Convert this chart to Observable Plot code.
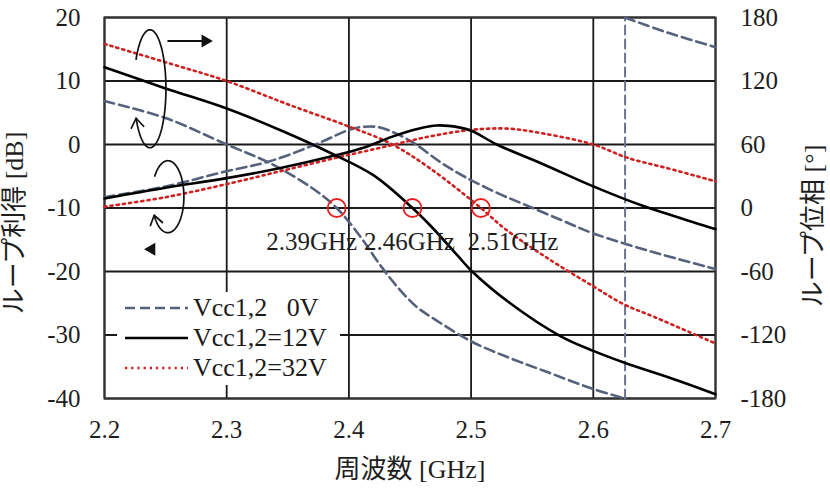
<!DOCTYPE html>
<html>
<head>
<meta charset="utf-8">
<script src="https://cdn.jsdelivr.net/npm/d3@7"></script>
<script src="https://cdn.jsdelivr.net/npm/@observablehq/plot@0.6"></script>
<style>
  body { margin: 0; background: #fff; }
  #wrap { position: relative; width: 830px; height: 493px; overflow: hidden; }
  #wrap svg, #wrap svg text { font-family: "Liberation Serif", "Times New Roman", "Noto Sans CJK JP", serif !important;
    font-variant: normal !important; font-variant-numeric: normal !important; }
  #legend { position: absolute; left: 117px; top: 292px; width: 223px; height: 93px; background: #fff;
            font-family: "Liberation Serif", "Times New Roman", serif; font-size: 26px; color: #1a1a1a; }
  #legend .row { position: absolute; left: 8px; height: 30px; display: flex; align-items: center; white-space: pre; }
  #legend .row svg { margin-right: 5px; }
</style>
</head>
<body>
<div id="wrap"></div>
<script>
// ---------- data ----------
const xTicks = [2.2, 2.3, 2.4, 2.5, 2.6, 2.7];
const gainTicks = [-40, -30, -20, -10, 0, 10, 20];
const phaseTicks = [-180, -120, -60, 0, 60, 120, 180];

const xLabel = "周波数 [GHz]";
const yLabelLeft = "ループ利得 [dB]";
const yLabelRight = "ループ位相 [°]";

const seriesNames = ["Vcc1,2\u00a0\u00a0\u00a00V", "Vcc1,2=12V", "Vcc1,2=32V"];

// loop gain [dB]  (left axis)
const gain0V = [[2.2,-8.3],[2.25,-6.6],[2.3,-4.2],[2.336,-2.6],[2.375,0.2],[2.4,2.3],[2.412,2.8],[2.425,2.7],
  [2.44,1.6],[2.455,0],[2.475,-2.8],[2.494,-5.0],[2.52,-7.5],[2.543,-9.4],[2.575,-12],[2.6,-14],[2.65,-17],[2.7,-19.6]];
const gain12V = [[2.2,-8.5],[2.25,-6.8],[2.3,-5.3],[2.344,-3.7],[2.385,-1.9],[2.412,-0.5],[2.435,1.2],[2.455,2.4],
  [2.472,3.0],[2.49,2.7],[2.5,2.2],[2.521,0],[2.559,-3.1],[2.6,-6.6],[2.641,-9.7],[2.7,-13.3]];
const gain32V = [[2.2,-9.8],[2.25,-8.3],[2.303,-6.1],[2.344,-4.2],[2.385,-2.3],[2.426,-0.5],[2.467,1.3],[2.5,2.3],
  [2.53,2.5],[2.56,1.7],[2.6,0],[2.628,-2.1],[2.66,-3.7],[2.7,-5.8]];

// loop phase [deg]  (right axis)
const phase0V = [[2.2,101],[2.25,85],[2.3,60],[2.336,42],[2.371,18],[2.39,0],[2.41,-28],[2.425,-53],[2.44,-75],
  [2.455,-93],[2.47,-105],[2.5,-126],[2.53,-141],[2.56,-154],[2.6,-171],[2.626,-180],[2.626,180],[2.66,166],[2.7,152]];
const phase12V = [[2.2,133],[2.25,113],[2.3,94],[2.345,73],[2.385,52],[2.42,31],[2.452,0],[2.467,-17],[2.489,-45],
  [2.5,-59],[2.532,-90],[2.573,-121],[2.6,-135],[2.625,-146],[2.669,-163],[2.7,-176]];
const phase32V = [[2.2,155],[2.255,136],[2.3,120],[2.35,98],[2.4,77],[2.434,61],[2.467,37],[2.508,0],[2.527,-19],
  [2.562,-47],[2.6,-74],[2.625,-91],[2.65,-103],[2.7,-128]];

// zero-phase crossing markers
const crossFreq = [2.39, 2.452, 2.508];
const crossText = ["2.39GHz", "2.46GHz", "2.51GHz"];

// annotation marks (axis-assignment arrows)
const arrowRight = [[2.2515, 16.3], [2.2825, 16.3]];
const arrowLeftHead = [[2.2385, -16.5]];
const loops = [
  {f: 2.2376, v: 8.7, rx: 16, ry: 59, t0: 210, t1: 510},
  {f: 2.2523, v: -8.3, rx: 16, ry: 36, t0: 215, t1: 510}
];

// ---------- styles ----------
const serif = "Liberation Serif, Times New Roman, Noto Sans CJK JP, serif";
const col0V = "#56627c", col32V = "#d02020";
const st0V = {stroke: col0V, strokeWidth: 2.6, strokeDasharray: "10,5"};
const st12V = {stroke: "#000", strokeWidth: 2.6};
const st32V = {stroke: col32V, strokeWidth: 2.6, strokeDasharray: "2.2,4"};

const toLeft = p => (p - 60) / 6;   // phase -> gain-axis position

// split phase0V at its wrap
const wrapIdx = phase0V.findIndex((d, i) => i > 0 && Math.abs(d[1] - phase0V[i - 1][1]) > 180);
const ph0A = phase0V.slice(0, wrapIdx);
const ph0B = phase0V.slice(wrapIdx - 1, wrapIdx + 1);
const ph0C = phase0V.slice(wrapIdx);

const fx = d => d[0];
const fy = d => d[1];
const fp = d => toLeft(d[1]);
const curve = "catmull-rom";

const labelDx = [-25, -3, 32];

const plot = Plot.plot({
  width: 830, height: 493,
  marginLeft: 104, marginRight: 115, marginTop: 17, marginBottom: 95,
  x: {domain: [2.2, 2.7]},
  y: {domain: [-40, 20]},
  style: {fontFamily: serif, fontSize: "25px", color: "#1e1e1e", background: "#fff", overflow: "visible"},
  marks: [
    Plot.ruleX(xTicks, {stroke: "#1a1a1a", strokeWidth: 1.8}),
    Plot.ruleY(gainTicks, {stroke: "#1a1a1a", strokeWidth: 1.8}),
    Plot.frame({stroke: "#333", strokeWidth: 2}),
    Plot.axisX(xTicks, {tickSize: 0, tickPadding: 22, tickFormat: d => d.toFixed(1), label: null,
      fontFamily: serif, fontSize: 25, fontVariant: "normal"}),
    Plot.axisY(gainTicks, {anchor: "left", tickSize: 0, tickPadding: 24, tickFormat: d => String(d), label: null,
      fontFamily: serif, fontSize: 25, fontVariant: "normal"}),
    Plot.axisY(gainTicks, {anchor: "right", tickSize: 0, tickPadding: 25,
      tickFormat: d => String(phaseTicks[gainTicks.indexOf(d)]), label: null, fontFamily: serif, fontSize: 25,
      fontVariant: "normal"}),

    Plot.line(gain0V, {x: fx, y: fy, curve, ...st0V}),
    Plot.line(ph0A, {x: fx, y: fp, curve, ...st0V}),
    Plot.line(ph0B, {x: fx, y: fp, stroke: "#6a7490", strokeWidth: 2, strokeDasharray: "9,5"}),
    Plot.line(ph0C, {x: fx, y: fp, curve, ...st0V}),
    Plot.line(gain32V, {x: fx, y: fy, curve, ...st32V}),
    Plot.line(phase32V, {x: fx, y: fp, curve, ...st32V}),
    Plot.line(gain12V, {x: fx, y: fy, curve, ...st12V}),
    Plot.line(phase12V, {x: fx, y: fp, curve, ...st12V}),

    Plot.dot(crossFreq, {x: d => d, y: () => toLeft(0), r: 9, stroke: "#e82020", strokeWidth: 1.8, fill: "none"}),
    ...crossFreq.map((f, i) => Plot.text([f], {x: d => d, y: () => toLeft(0), text: () => crossText[i],
      dx: labelDx[i], dy: 34, fontSize: 25, fill: "#1e1e1e", ariaLabel: "freq-labels"})),

    Plot.link([arrowRight], {x1: d => d[0][0], y1: d => d[0][1], x2: d => d[1][0], y2: d => d[1][1],
      stroke: "#111", strokeWidth: 1.8}),
    Plot.dot([arrowRight[1]], {x: fx, y: fy, symbol: "triangle2", r: 6.2, fill: "#111", rotate: 90}),
    Plot.dot(arrowLeftHead, {x: fx, y: fy, symbol: "triangle2", r: 6.2, fill: "#111", rotate: -90}),

    Plot.text([xLabel], {frameAnchor: "bottom", textAnchor: "middle", lineAnchor: "middle", dy: 71,
      fontSize: 26, text: d => d}),
    Plot.text([yLabelLeft], {frameAnchor: "left", textAnchor: "middle", lineAnchor: "middle", rotate: -90,
      dx: -90, dy: 15, fontSize: 26, text: d => d}),
    Plot.text([yLabelRight], {frameAnchor: "right", textAnchor: "middle", lineAnchor: "middle", rotate: -90,
      dx: 98, dy: 18, fontSize: 26, text: d => d})
  ]
});

const wrap = document.getElementById("wrap");
wrap.appendChild(plot);

// white boxes behind the frequency labels
plot.querySelectorAll('g[aria-label="freq-labels"] text').forEach(t => {
  const b = t.getBBox();
  const r = document.createElementNS("http://www.w3.org/2000/svg", "rect");
  r.setAttribute("x", b.x - 1); r.setAttribute("y", b.y - 3);
  r.setAttribute("width", b.width + 2); r.setAttribute("height", b.height + 8);
  r.setAttribute("fill", "#fff");
  t.parentNode.insertBefore(r, t);
});

// looped arrows
const sx = plot.scale("x"), sy = plot.scale("y");
const g = d3.select(plot).append("g").attr("fill", "none").attr("stroke", "#111")
  .attr("stroke-width", 1.7).attr("stroke-linecap", "round").attr("stroke-linejoin", "round");
const rad = Math.PI / 180;
loops.forEach(e => {
  const cx = sx.apply(e.f), cy = sy.apply(e.v);
  const pts = d3.range(e.t0, e.t1 + 0.01, 3).map(t => [cx + e.rx * Math.cos(t * rad), cy + e.ry * Math.sin(t * rad)]);
  g.append("path").attr("d", d3.line()(pts));
  const t = e.t1 * rad;
  let vx = -e.rx * Math.sin(t), vy = e.ry * Math.cos(t);
  const len = Math.hypot(vx, vy); vx /= len; vy /= len;
  const tip = pts[pts.length - 1];
  const L = 11, a = 0.6;
  const wing = s => [tip[0] + L * (-vx * Math.cos(s * a) + vy * Math.sin(s * a)),
                     tip[1] + L * (-vy * Math.cos(s * a) - vx * Math.sin(s * a))];
  g.append("path").attr("d", d3.line()([wing(1), tip, wing(-1)]));
});

// legend
const legend = document.createElement("div");
legend.id = "legend";
const legStyles = [st0V, st12V, st32V];
seriesNames.forEach((name, i) => {
  const row = document.createElement("div");
  row.className = "row";
  row.style.top = (1 + i * 30) + "px";
  const s = legStyles[i];
  row.innerHTML = `<svg width="63" height="30"><line x1="0" y1="15" x2="63" y2="15" stroke="${s.stroke}"
    stroke-width="${s.strokeWidth}" ${s.strokeDasharray ? `stroke-dasharray="${s.strokeDasharray}"` : ""}/></svg><span>${name}</span>`;
  legend.appendChild(row);
});
wrap.appendChild(legend);
</script>
</body>
</html>
